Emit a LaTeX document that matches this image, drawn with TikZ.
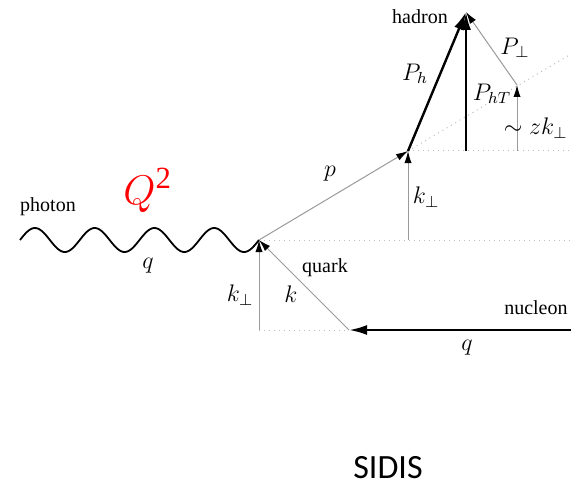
\documentclass[tikz,border=0pt]{standalone}
\usepackage{fontspec}
\setmainfont{Liberation Serif}
\newfontfamily\calib{Carlito}
\usetikzlibrary{arrows.meta}
\definecolor{linegray}{HTML}{9A9A9A}
\definecolor{dotgray}{HTML}{BDBDBD}
\definecolor{qred}{HTML}{FF0000}
\tikzset{
  vec/.style={draw=linegray, line width=0.5pt, -{Latex[length=6pt,width=3.6pt,color=black]}},
  bigvec/.style={draw=black, line width=1.2pt, -{Latex[length=9pt,width=5pt]}},
  guide/.style={draw=dotgray, line width=0.5pt, dotted},
  wave/.style={draw=black, line width=0.9pt},
  lbl/.style={font=\fontsize{10}{12}\selectfont, inner sep=1pt},
  mlbl/.style={font=\fontsize{12}{14}\selectfont, inner sep=1pt}
}

\begin{document}
\begin{tikzpicture}[x=0.5pt, y=-0.5pt]
  \useasboundingbox (0,0) rectangle (571,486);
  % points
  \coordinate (start) at (20,240);
  \coordinate (vtx) at (259,240);
  \coordinate (corner) at (259,330);
  \coordinate (qstart) at (349,330);
  \coordinate (nright) at (571,330);
  \coordinate (pend) at (408,151);
  \coordinate (pfoot) at (408,240);
  \coordinate (had) at (466,12);
  \coordinate (hfoot) at (466,151);
  \coordinate (zfoot) at (517,151);
  \coordinate (ztop) at (517,85);
  \coordinate (edge1) at (571,240);
  \coordinate (edge2) at (571,151);
  \coordinate (edge3) at (571,54);

  % guide lines
  \draw[guide] (vtx) -- (edge1);
  \draw[guide] (corner) -- (qstart);
  \draw[guide] (pend) -- (edge2);
  \draw[guide] (pend) -- (edge3);

  % photon, four periods from start to vtx
  \draw[wave] plot[domain=0:239, samples=161, smooth] ([shift={(start)}]\x,{-12*sin(\x*6.0251)});

  % quark side
  \draw[vec] (corner) -- (vtx);
  \draw[vec] (qstart) -- (vtx);
  \draw[bigvec] (nright) -- (qstart);
  \draw[vec] (vtx) -- (pend);
  \draw[vec] (pfoot) -- (pend);

  % hadron side
  \draw[bigvec] (pend) -- (had);
  \draw[bigvec] (hfoot) -- (had);
  \draw[vec] (zfoot) -- (ztop);
  \draw[vec] (ztop) -- (had);

  % labels
  \node[lbl] (photon) at (48,207) {photon};
  \node[lbl] (quark) at (325,268) {quark};
  \node[lbl] (hadron) at (420,17) {hadron};
  \node[lbl, anchor=east] (nucleon) at (570,308) {nucleon};
  \node[mlbl] (q1) at (148,266) {$q$};
  \node[mlbl] (q2) at (467,348) {$q$};
  \node[mlbl] (kp1) at (240,295) {$k_\perp$};
  \node[mlbl] (k) at (291,294) {$k$};
  \node[mlbl] (p) at (330,174) {$p$};
  \node[mlbl] (kp2) at (426,197) {$k_\perp$};
  \node[mlbl] (ph) at (415,74) {$P_h$};
  \node[mlbl] (pht) at (492,94) {$P_{hT}$};
  \node[mlbl] (pperp) at (515,48) {$P_\perp$};
  \node[mlbl, anchor=east] (zk) at (570,128) {$\sim zk_\perp$};
  \node[anchor=base west, inner sep=0pt, text=qred] (q2lbl) at (123,204)
    {\fontsize{22}{26}\selectfont$Q^{\mathrm{2}}$};
  \node[inner sep=0pt] (sidis) at (388,468) {\calib\fontsize{17}{20}\selectfont SIDIS};
\end{tikzpicture}
\end{document}
